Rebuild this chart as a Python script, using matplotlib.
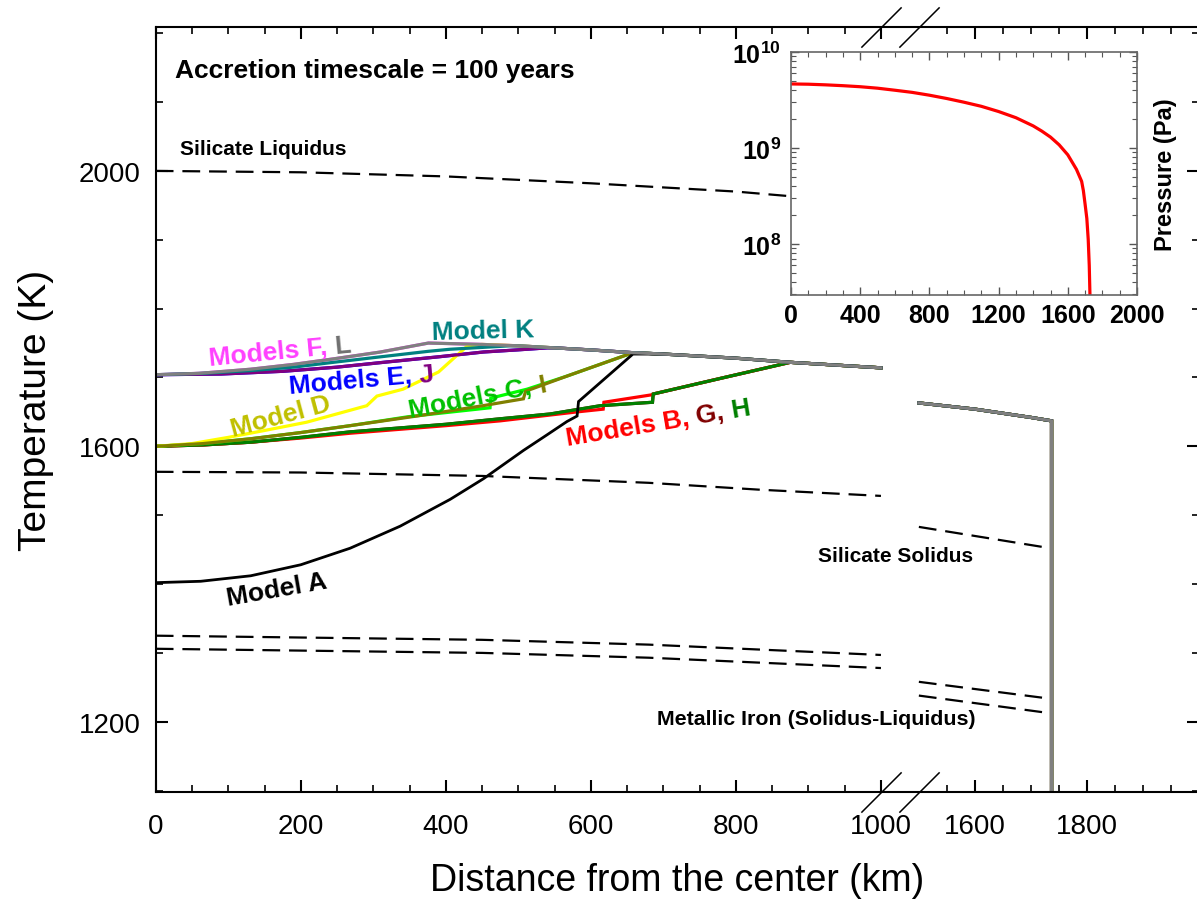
import numpy as np
import matplotlib
matplotlib.use('Agg')
import matplotlib.pyplot as plt
from matplotlib import ticker, transforms

plt.rcParams['font.family'] = ['Liberation Sans', 'DejaVu Sans']
plt.rcParams['mathtext.fontset'] = 'custom'
plt.rcParams['mathtext.bf'] = 'Liberation Sans:bold'
plt.rcParams['mathtext.rm'] = 'Liberation Sans'

# ---- data (distance in km, temperature in K) ----
# shared upper envelope that all models end on, and the outer shell part
top_km = [376, 450, 500, 550, 600, 658, 700, 800, 875, 1000]
top_T = [1750, 1748, 1746, 1743, 1740, 1736, 1734, 1728, 1722, 1714]
outer_km = [1500, 1600, 1700, 1737, 1737]
outer_T = [1663, 1654, 1642, 1637, 1050]

A_km = [0, 62, 131, 200, 268, 337, 406, 452, 507, 540, 567, 581, 583, 658]
A_T = [1402, 1404, 1412, 1428, 1452, 1484, 1523, 1553, 1594, 1617, 1636, 1644, 1665, 1734]
B_km = [0, 65, 131, 200, 268, 340, 400, 475, 581, 617, 618, 685, 686, 780, 875]
B_T = [1600, 1602, 1606, 1612, 1619, 1625, 1630, 1637, 1650, 1654, 1664, 1675, 1676, 1699, 1722]
H_km = [0, 65, 131, 200, 268, 340, 400, 475, 544, 613, 685, 686, 780, 875]
H_T = [1600, 1602, 1606, 1613, 1621, 1627, 1632, 1640, 1647, 1659, 1664, 1676, 1699, 1722]
G_km = H_km
G_T = H_T
C_km = [0, 65, 131, 200, 268, 348, 461, 462, 512, 567, 658]
C_T = [1600, 1604, 1611, 1620, 1630, 1643, 1656, 1670, 1683, 1702, 1736]
I_km = [0, 65, 131, 200, 268, 360, 451, 507, 510, 567, 658]
I_T = [1600, 1604, 1611, 1620, 1630, 1644, 1659, 1669, 1680, 1702, 1736]
D_km = [0, 50, 100, 150, 208, 291, 305, 341, 390, 430]
D_T = [1600, 1604, 1613, 1623, 1635, 1659, 1673, 1683, 1708, 1746]
J_km = [0, 90, 176, 250, 314, 390, 452, 498, 540]
J_T = [1704, 1705, 1709, 1715, 1722, 1730, 1737, 1740, 1743]
E_km = J_km
E_T = J_T
K_km = [0, 65, 131, 190, 245, 310, 376, 406, 489]
K_T = [1704, 1706, 1710, 1715, 1722, 1730, 1738, 1741, 1746]
L_km = [0, 60, 131, 190, 245, 310, 376]
L_T = [1704, 1706, 1712, 1719, 1727, 1737, 1750]
F_km = L_km
F_T = L_T

# dashed melting curves: inner part (0-1000 km) and outer part (1500+ km)
liq_km = [0, 200, 400, 600, 800, 1000, np.nan, 1500, 1737]
liq_T = [2000, 1998, 1992, 1982, 1970, 1952, np.nan, 1900, 1880]
sol_km = [0, 200, 450, 680, 833, 1000, np.nan, 1500, 1720]
sol_T = [1563, 1562, 1557, 1547, 1537, 1528, np.nan, 1483, 1454]
fe1_km = [0, 450, 680, 1000, np.nan, 1500, 1720]
fe1_T = [1325, 1319, 1312, 1297, np.nan, 1258, 1235]
fe2_km = [0, 450, 680, 1000, np.nan, 1500, 1720]
fe2_T = [1306, 1300, 1293, 1278, np.nan, 1238, 1214]

# inset: pressure profile
p_km = [0, 100, 200, 300, 400, 500, 600, 700, 800, 900, 1000, 1100, 1200, 1300, 1400, 1450,
        1500, 1550, 1600, 1650, 1680, 1690, 1700, 1710, 1718, 1724, 1728, 1731, 1734]
p_Pa = [4.65e9, 4.62e9, 4.55e9, 4.46e9, 4.35e9, 4.2e9, 4.0e9, 3.8e9, 3.55e9, 3.28e9, 3.0e9,
        2.72e9, 2.4e9, 2.07e9, 1.7e9, 1.5e9, 1.3e9, 1.08e9, 8.5e8, 6.0e8, 4.5e8, 3.6e8, 2.6e8,
        1.85e8, 1.12e8, 6e7, 3e7, 1.6e7, 8e6]


def with_tail(km, T):
    start = km[-1]
    tk = [k for k in top_km if k > start]
    tT = [t for k, t in zip(top_km, top_T) if k > start]
    return np.r_[km, tk, np.nan, outer_km], np.r_[T, tT, np.nan, outer_T]


# broken x axis: 0-1000 km, gap, 1500-2000 km drawn narrower
SEG1_END, SEG2_START = 1000, 1500
GAP = 52.3
K2 = 0.772


def fwd(x):
    x = np.asarray(x, dtype=float)
    return np.where(x <= SEG1_END, x,
                    np.where(x <= SEG2_START,
                             SEG1_END + (x - SEG1_END) * GAP / (SEG2_START - SEG1_END),
                             SEG1_END + GAP + (x - SEG2_START) * K2))


def inv(u):
    u = np.asarray(u, dtype=float)
    return np.where(u <= SEG1_END, u,
                    np.where(u <= SEG1_END + GAP,
                             SEG1_END + (u - SEG1_END) * (SEG2_START - SEG1_END) / GAP,
                             SEG2_START + (u - SEG1_END - GAP) / K2))


fig = plt.figure(figsize=(11.97, 9.12), dpi=100)
ax = fig.add_axes([0.1301, 0.1305, 0.8714, 0.8388])
ax.set_xscale('function', functions=(fwd, inv))

dash = dict(color='black', lw=1.6, ls=(0, (8, 4)))
for km, T in [(liq_km, liq_T), (sol_km, sol_T), (fe1_km, fe1_T), (fe2_km, fe2_T)]:
    ax.plot(km, T, **dash)

series = [
    (F_km, F_T, '#ff40ff'),
    (E_km, E_T, '#0000ff'),
    (G_km, G_T, '#800000'),
    (B_km, B_T, '#ff0000'),
    (H_km, H_T, '#008000'),
    (C_km, C_T, '#00ff00'),
    (D_km, D_T, '#ffff00'),
    (I_km, I_T, '#808000'),
    (J_km, J_T, '#800080'),
    (K_km, K_T, '#008080'),
    (A_km, A_T, 'black'),
    (L_km, L_T, '#808080'),
]
for km, T, c in series:
    x, y = with_tail(km, T)
    ax.plot(x, y, color=c, lw=2.3 if c != 'black' else 2.0, solid_joinstyle='miter')

ax.set_xlim(0, 2000)
ax.set_ylim(1098, 2209)
ax.set_xticks([0, 200, 400, 600, 800, 1000, 1600, 1800, 2000])
ax.set_xticklabels(['0', '200', '400', '600', '800', '1000', '1600', '1800', ''])
ax.set_xticks(list(range(50, 1000, 50)) + [1550, 1650, 1700, 1750, 1850, 1900, 1950], minor=True)
ax.set_yticks([1200, 1600, 2000])
ax.set_yticks([1100, 1300, 1400, 1500, 1700, 1800, 1900, 2100, 2200], minor=True)
ax.xaxis.set_minor_formatter(ticker.NullFormatter())
ax.tick_params(which='both', direction='in', top=True, right=True, labelsize=20)
ax.tick_params(which='major', length=8.5, width=1.5)
ax.tick_params(which='minor', length=5, width=1.2)
ax.tick_params(axis='x', pad=15)
ax.tick_params(axis='y', pad=11)
for s in ax.spines.values():
    s.set_linewidth(1.5)

ax.set_xlabel('Distance from the center (km)', fontsize=27, labelpad=17)
ax.set_ylabel('Temperature (K)', fontsize=28, labelpad=18)

# break marks on bottom and top spines
blend = transforms.blended_transform_factory(ax.transData, ax.transAxes)
for yb in (0, 1):
    ax.plot([SEG1_END, SEG2_START], [yb, yb], transform=blend, ls='none',
            marker=[(-1, -1), (1, 1)], ms=29, mec='black', mew=1.1, clip_on=False)

# annotations
ax.text(27, 2137, 'Accretion timescale = 100 years', fontsize=19, fontweight='bold')
ax.text(34, 2024, 'Silicate Liquidus', fontsize=15, fontweight='bold')
ax.text(913, 1434, 'Silicate Solidus', fontsize=15, fontweight='bold')
ax.text(691, 1197, 'Metallic Iron (Solidus-Liquidus)', fontsize=15.4, fontweight='bold')

renderer = fig.canvas.get_renderer()


def text_width(s, size):
    t = fig.text(0, 0, s, fontsize=size, fontweight='bold')
    w = t.get_window_extent(renderer).width
    t.remove()
    return w


def colored_label(x, y, parts, rot, size=19):
    prefix = ''
    bar = text_width('|', size)
    th = np.deg2rad(rot)
    for s, c in parts:
        w = text_width(prefix + '|', size) - bar if prefix else 0.0
        tr = transforms.offset_copy(ax.transData, fig=fig, x=w * np.cos(th), y=w * np.sin(th), units='dots')
        ax.text(x, y, s, color=c, fontsize=size, fontweight='bold', rotation=rot,
                rotation_mode='anchor', ha='left', va='baseline', transform=tr)
        prefix += s


colored_label(74, 1718, [('Models F, ', '#ff40ff'), ('L', '#707070')], 5.5)
colored_label(381, 1756, [('Model K', '#008080')], 1.5)
colored_label(185, 1677, [('Models E, ', '#0000ff'), ('J', '#800080')], 5)
colored_label(107, 1615, [('Model D', '#c0c000')], 15)
colored_label(351, 1643, [('Models C, ', '#00c000'), ('I', '#808000')], 11)
colored_label(567, 1602, [('Models B, ', '#ff0000'), ('G, ', '#800000'), ('H', '#008000')], 9.5)
colored_label(99, 1370, [('Model A', 'black')], 10)

# inset: pressure
ax_in = fig.add_axes([791 / 1197, (912 - 296) / 912, 346 / 1197, 243 / 912])
ax_in.plot(p_km, p_Pa, color='red', lw=2.3)
ax_in.set_yscale('log')
ax_in.set_xlim(0, 2000)
ax_in.set_ylim(10 ** 7.47, 1e10)
ax_in.set_xticks(np.arange(0, 2001, 400))
ax_in.set_xticklabels([str(v) for v in range(0, 2001, 400)], fontweight='bold')
ax_in.xaxis.set_minor_locator(ticker.MultipleLocator(100))
ax_in.set_yticks([1e8, 1e9, 1e10])
ax_in.set_yticklabels([r'$\mathbf{10^{8}}$', r'$\mathbf{10^{9}}$', r'$\mathbf{10^{10}}$'])
ax_in.yaxis.set_minor_locator(ticker.LogLocator(base=10, subs=np.arange(2, 10)))
ax_in.yaxis.set_minor_formatter(ticker.NullFormatter())
ax_in.tick_params(which='both', direction='in', top=True, right=True, labelsize=18,
                  color='#555555')
ax_in.tick_params(which='major', length=6, width=1)
ax_in.tick_params(which='minor', length=3.5, width=0.8)
ax_in.tick_params(axis='x', pad=6)
ax_in.tick_params(axis='y', pad=7)
for s in ax_in.spines.values():
    s.set_color('#666666')
    s.set_linewidth(1.2)
ax_in.yaxis.set_label_position('right')
ax_in.set_ylabel('Pressure (Pa)', fontsize=17, fontweight='bold', labelpad=12)

fig.savefig('out.png', dpi=100)
